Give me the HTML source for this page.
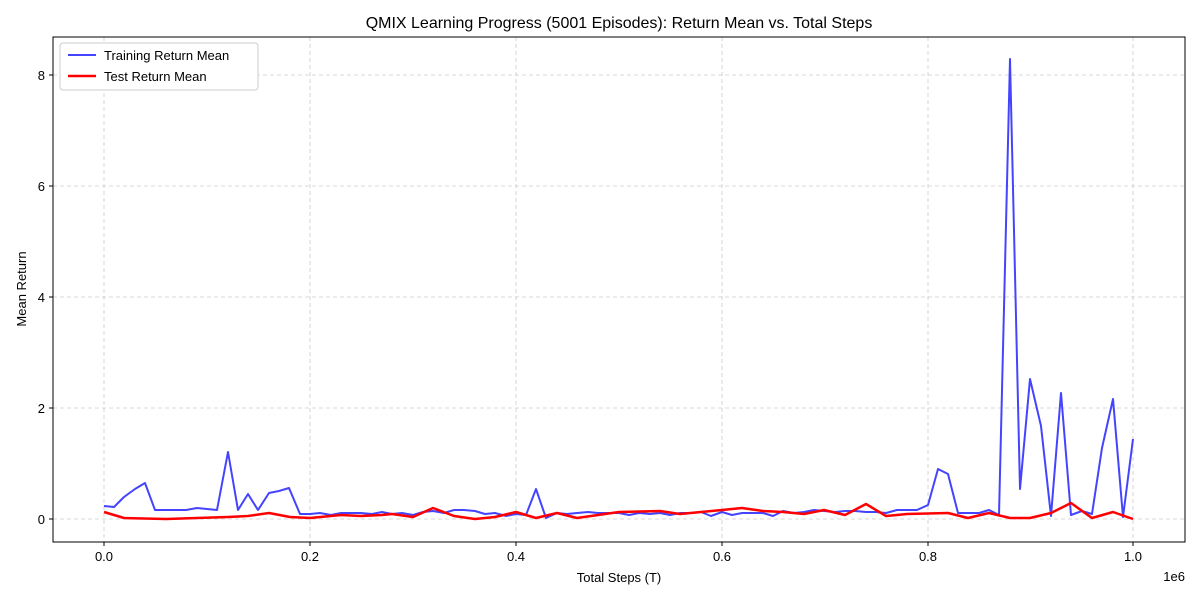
<!DOCTYPE html>
<html><head><meta charset="utf-8"><style>body{margin:0;background:#fff}svg{display:block}text{font-family:"Liberation Sans",sans-serif;fill:#000}</style></head><body>
<svg width="1200" height="600" xmlns="http://www.w3.org/2000/svg">
<rect width="1200" height="600" fill="#fff"/>
<g stroke="#ccc" stroke-dasharray="4,3" stroke-width="0.8">
<line x1="104" y1="37" x2="104" y2="542"/><line x1="310" y1="37" x2="310" y2="542"/><line x1="516" y1="37" x2="516" y2="542"/><line x1="722" y1="37" x2="722" y2="542"/><line x1="928" y1="37" x2="928" y2="542"/><line x1="1133" y1="37" x2="1133" y2="542"/>
<line x1="53" y1="519" x2="1185" y2="519"/><line x1="53" y1="408" x2="1185" y2="408"/><line x1="53" y1="297" x2="1185" y2="297"/><line x1="53" y1="186" x2="1185" y2="186"/><line x1="53" y1="75" x2="1185" y2="75"/>
</g>
<polyline fill="none" stroke="#4444ff" stroke-width="2" stroke-linejoin="round" points="104,506 114,507 124,497 135,489 145,483 155,510 166,510 176,510 186,510 197,508 207,509 217,510 228,452 238,510 248,494 258,510 269,493 279,491 289,488 300,514 310,514 320,513 331,515 341,513 351,513 361,513 372,514 382,512 392,514 402,513 413,515 423,512 433,511 444,513 454,510 464,510 475,511 485,514 495,513 506,516 516,514 526,515 536,489 546,518 557,513 567,514 577,513 588,512 598,513 608,513 619,513 629,515 639,513 650,514 660,513 670,515 680,513 691,513 701,512 711,516 722,512 732,515 742,513 753,513 763,513 773,516 783,511 794,513 804,512 814,510 824,511 835,512 845,511 855,511 866,512 876,512 886,513 897,510 907,510 917,510 928,505 938,469 948,474 958,513 968,513 979,513 989,510 999,515 1010,59 1020,489 1030,379 1041,426 1051,516 1061,393 1071,515 1082,511 1092,514 1102,448 1113,399 1123,517 1133,439"/>
<polyline fill="none" stroke="#ff0000" stroke-width="2.5" stroke-linejoin="round" points="104,512 124,518 166,519 197,518 228,517 248,516 269,513 290,517 310,518 341,515 361,516 382,515 392,514 413,517 433,508 454,516 475,519 495,517 516,512 536,518 557,513 577,518 598,515 619,512 660,511 680,514 701,512 722,510 742,508 763,511 783,512 804,514 824,510 845,515 866,504 886,516 907,514 948,513 968,518 989,513 1010,518 1030,518 1051,513 1071,503 1092,518 1113,512 1133,519"/>
<rect x="53" y="37" width="1132" height="505" fill="none" stroke="#000" stroke-width="1"/>
<g stroke="#000" stroke-width="1">
<line x1="104" y1="542" x2="104" y2="546"/><line x1="310" y1="542" x2="310" y2="546"/><line x1="516" y1="542" x2="516" y2="546"/><line x1="722" y1="542" x2="722" y2="546"/><line x1="928" y1="542" x2="928" y2="546"/><line x1="1133" y1="542" x2="1133" y2="546"/>
<line x1="49" y1="519" x2="53" y2="519"/><line x1="49" y1="408" x2="53" y2="408"/><line x1="49" y1="297" x2="53" y2="297"/><line x1="49" y1="186" x2="53" y2="186"/><line x1="49" y1="75" x2="53" y2="75"/>
</g>
<g font-size="13" text-anchor="middle">
<text x="104" y="561">0.0</text><text x="310" y="561">0.2</text><text x="516" y="561">0.4</text><text x="722" y="561">0.6</text><text x="928" y="561">0.8</text><text x="1133" y="561">1.0</text>
</g>
<g font-size="13" text-anchor="end">
<text x="45" y="524">0</text><text x="45" y="413">2</text><text x="45" y="302">4</text><text x="45" y="191">6</text><text x="45" y="80">8</text>
</g>
<text x="1185" y="581" font-size="13" text-anchor="end">1e6</text>
<text x="619" y="582" font-size="13" text-anchor="middle">Total Steps (T)</text>
<text x="26" y="289" font-size="13" text-anchor="middle" transform="rotate(-90 26 289)">Mean Return</text>
<text x="619" y="28" font-size="16" text-anchor="middle">QMIX Learning Progress (5001 Episodes): Return Mean vs. Total Steps</text>
<rect x="60" y="43" width="198" height="47" rx="3" fill="#fff" stroke="#ccc"/>
<line x1="68" y1="55" x2="96" y2="55" stroke="#4444ff" stroke-width="2"/>
<text x="104" y="60" font-size="13">Training Return Mean</text>
<line x1="68" y1="76" x2="96" y2="76" stroke="#ff0000" stroke-width="2.5"/>
<text x="104" y="81" font-size="13">Test Return Mean</text>
</svg>
</body></html>
